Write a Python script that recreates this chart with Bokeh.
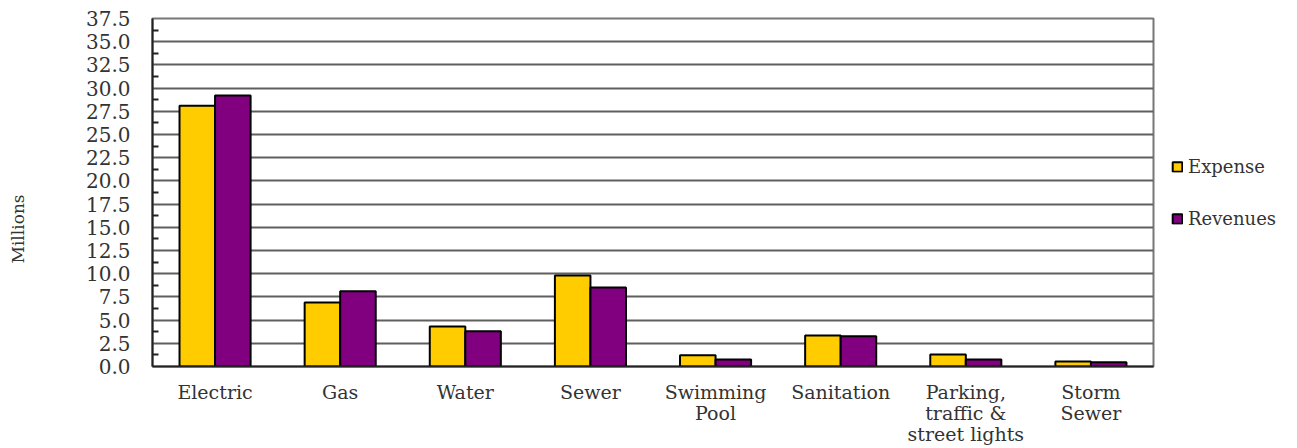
from bokeh.plotting import figure
from bokeh.models import (ColumnDataSource, FactorRange, Range1d, FixedTicker,
                          PrintfTickFormatter, Legend, LegendItem, Title, CategoricalAxis,
                          CustomJSTickFormatter)
from bokeh.transform import dodge
from bokeh.embed import file_html
from bokeh.resources import INLINE

categories = ["Electric", "Gas", "Water", "Sewer", "Swimming Pool",
              "Sanitation", "Parking, traffic & street lights", "Storm Sewer"]
label_line1 = ["Electric", "Gas", "Water", "Sewer", "Swimming",
               "Sanitation", "Parking,", "Storm"]
label_line2 = ["", "", "", "", "Pool", "", "traffic &", "Sewer"]
label_line3 = ["", "", "", "", "", "", "street lights", ""]
expense = [28.1, 6.9, 4.3, 9.8, 1.2, 3.35, 1.3, 0.55]
revenues = [29.2, 8.1, 3.8, 8.5, 0.75, 3.25, 0.75, 0.45]
y_ticks = [i * 2.5 for i in range(16)]

FONT = "DejaVu Serif"
TXT = "#333333"

src = ColumnDataSource(dict(cat=categories, expense=expense, revenues=revenues))

p = figure(frame_width=1001, frame_height=348,
           x_range=FactorRange(*categories, range_padding=0),
           y_range=Range1d(0, 37.5), output_backend="svg", toolbar_location=None,
           min_border_left=152, min_border_right=10, min_border_top=18,
           min_border_bottom=0)

r1 = p.vbar(x=dodge("cat", -0.142, range=p.x_range), top="expense", width=0.284,
            source=src, fill_color="#FFCC00", line_color="black", line_width=2)
r2 = p.vbar(x=dodge("cat", 0.142, range=p.x_range), top="revenues", width=0.284,
            source=src, fill_color="#800080", line_color="black", line_width=2)

p.xgrid.grid_line_color = None
p.ygrid.grid_line_color = "#5f5f5f"
p.ygrid.grid_line_width = 2
p.ygrid.ticker = FixedTicker(ticks=y_ticks)

p.outline_line_color = "#777777"
p.outline_line_width = 2

ya = p.yaxis[0]
ya.ticker = FixedTicker(ticks=y_ticks, minor_ticks=[i * 2.5 + 1.25 for i in range(15)])
ya.formatter = PrintfTickFormatter(format="%.1f")
ya.major_tick_in = 0
ya.major_tick_out = 0
ya.minor_tick_in = 6
ya.minor_tick_out = 0
ya.minor_tick_line_color = "#222222"
ya.minor_tick_line_width = 2
ya.axis_line_color = "#222222"
ya.axis_line_width = 2
ya.major_label_text_font = FONT
ya.major_label_text_font_size = "20px"
ya.major_label_text_color = TXT
ya.major_label_standoff = 22


def line_formatter(lines):
    return CustomJSTickFormatter(args=dict(m=dict(zip(categories, lines))),
                                 code="const s = m[tick]; return (s === undefined) ? '' : s;")


xa = p.xaxis[0]
xa.formatter = line_formatter(label_line1)
xa.major_tick_line_color = None
xa.minor_tick_line_color = None
xa.axis_line_color = "#222222"
xa.axis_line_width = 2
xa.major_label_text_font = FONT
xa.major_label_text_font_size = "19px"
xa.major_label_text_color = TXT
xa.major_label_standoff = 8

for lines in (label_line2, label_line3):
    ax = CategoricalAxis(formatter=line_formatter(lines),
                         axis_line_color=None, major_tick_line_color=None,
                         minor_tick_line_color=None, major_label_standoff=-10,
                         major_label_text_font=FONT, major_label_text_font_size="19px",
                         major_label_text_color=TXT)
    p.add_layout(ax, "below")

# blank spacer panel between the tick labels and the "Millions" title
spacer = Title(text=" ", standoff=40, text_font_size="10px")
p.add_layout(spacer, "left")

t = Title(text="Millions", align="left", offset=103, standoff=0, vertical_align="top",
          text_font=FONT, text_font_size="17px", text_font_style="normal", text_color=TXT)
p.add_layout(t, "left")

legend = Legend(items=[LegendItem(label="Expense", renderers=[r1]),
                       LegendItem(label="Revenues", renderers=[r2])],
                location="center_left", orientation="vertical",
                glyph_width=12, glyph_height=12, spacing=31, padding=4,
                margin=18, border_line_color=None, background_fill_alpha=0,
                label_text_font=FONT, label_text_font_size="18px",
                label_text_color=TXT, label_standoff=5)
p.add_layout(legend, "right")

open("out.html", "w").write(file_html(p, INLINE))
